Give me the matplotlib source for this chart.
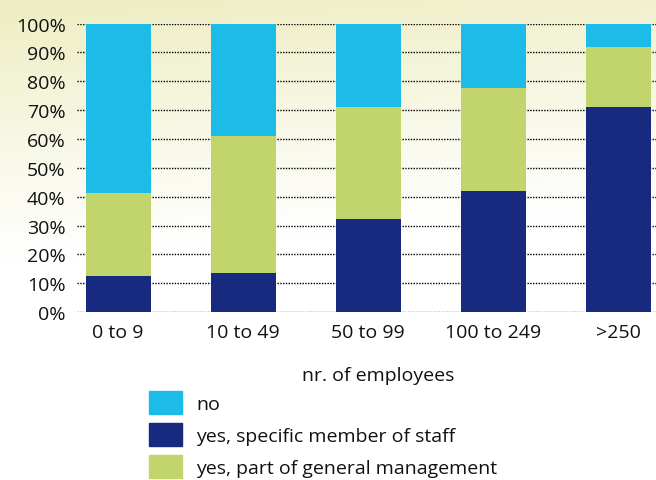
import numpy as np
import matplotlib
matplotlib.use("Agg")
import matplotlib.pyplot as plt
from matplotlib.patches import Patch

plt.rcParams["font.family"] = ["Open Sans", "DejaVu Sans"]

categories = ["0 to 9", "10 to 49", "50 to 99", "100 to 249", ">250"]
specific_staff = [12.6, 13.6, 32.3, 42.0, 71.2]
general_mgmt = [28.8, 47.6, 38.9, 35.5, 20.8]
no_answer = [58.6, 38.8, 28.8, 22.5, 8.0]

C_NO = "#1dbbe8"
C_STAFF = "#172a80"
C_MGMT = "#c2d46c"
TXT = "#111111"

fig = plt.figure(figsize=(6.56, 4.81), dpi=100)

# soft cream wash in the top-left corner
bg = fig.add_axes([0, 0, 1, 1], zorder=-10)
yy, xx = np.mgrid[0:1:200j, 0:1:200j]
w = np.clip(1 - yy / 0.55 - xx * 0.2, 0, 1) ** 1.1
img = np.ones((200, 200, 3))
cream = np.array([0.93, 0.93, 0.76])
img = img * (1 - w[..., None]) + cream * w[..., None]
bg.imshow(img, extent=[0, 1, 0, 1], origin="upper", aspect="auto")
bg.set_axis_off()

ax = fig.add_axes([0.117, 0.349, 0.883, 0.600])
ax.patch.set_alpha(0)
x = np.arange(len(categories))
width = 0.52
s = np.array(specific_staff)
g = np.array(general_mgmt)
n = np.array(no_answer)
ax.bar(x, s, width, color=C_STAFF, zorder=3)
ax.bar(x, g, width, bottom=s, color=C_MGMT, zorder=3)
ax.bar(x, n, width, bottom=s + g, color=C_NO, zorder=3)

ax.set_xlim(-0.33, 4.3)
ax.set_ylim(0, 100)
ax.set_yticks(range(0, 101, 10))
ax.set_yticklabels([f"{v}%" for v in range(0, 101, 10)])
ax.set_xticks(x)
ax.set_xticklabels(categories)
ax.tick_params(length=0, labelsize=14, colors=TXT)
ax.tick_params(axis="x", pad=8)
ax.tick_params(axis="y", pad=8)
ax.yaxis.grid(True, color="black", linestyle=(0, (1, 1)), linewidth=1.0, zorder=0)
for sp in ax.spines.values():
    sp.set_visible(False)

fig.text(0.576, 0.218, "nr. of employees", ha="center", va="center",
         fontsize=14, color=TXT)

handles = [Patch(color=C_NO), Patch(color=C_STAFF), Patch(color=C_MGMT)]
labels = ["no", "yes, specific member of staff", "yes, part of general management"]
fig.legend(handles, labels, loc="upper left", bbox_to_anchor=(0.227, 0.184),
           frameon=False, fontsize=14, handlelength=1.72, handleheight=1.43,
           labelspacing=0.46, handletextpad=0.7, borderpad=0, borderaxespad=0,
           labelcolor=TXT)

fig.savefig("out.png", dpi=100)
